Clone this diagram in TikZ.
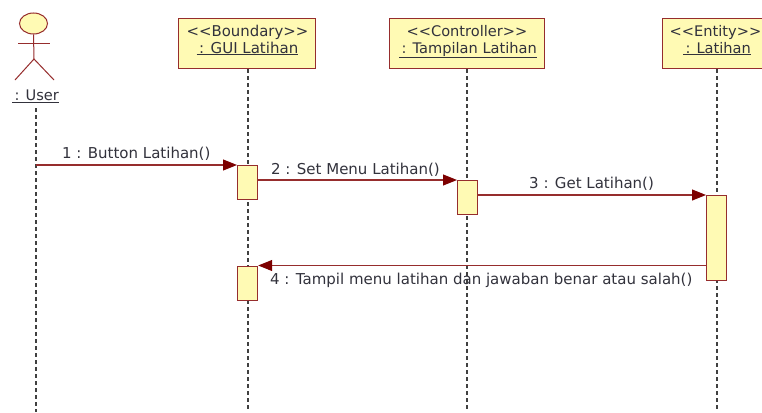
\documentclass[tikz,border=0pt]{standalone}
\usepackage{fontspec}
\setmainfont{DejaVu Sans}
\usetikzlibrary{arrows.meta,calc,shapes.geometric}
\definecolor{umlline}{RGB}{150,45,45}
\definecolor{umlfill}{RGB}{255,250,180}
\definecolor{umltip}{RGB}{125,0,0}
\definecolor{umltext}{RGB}{50,50,60}
\tikzset{
  x=1pt,y=-1pt,
  every node/.style={font=\fontsize{14.6}{17}\selectfont,text=umltext},
  objbox/.style={draw=umlline,line width=1.2pt,fill=umlfill,minimum height=50pt,inner sep=0pt,align=center,anchor=north west},
  actbox/.style={draw=umlline,line width=1.2pt,fill=umlfill,minimum width=20pt,inner sep=0pt,anchor=north west},
  lifeline/.style={draw=black!75,line width=1.2pt,dash pattern=on 3.5pt off 3.5pt},
  msg/.style={draw=umlline,line width=1.1pt,-{Triangle[length=14pt,width=11pt,color=umltip]}},
  msgline/.style={anchor=base west,inner sep=0pt,font=\fontsize{15}{17}\selectfont},
  stick/.style={draw=umlline,line width=1pt},
}
\begin{document}
\begin{tikzpicture}
\useasboundingbox (0,0) rectangle (762,412);
\clip (0,0) rectangle (762,412);
\fill[white] (0,0) rectangle (762,412);
% lifeline ends
\coordinate (endU) at (36,412);
\coordinate (endB) at (248,412);
\coordinate (endC) at (467,412);
\coordinate (endE) at (717,412);
% actor
\node[draw=umlline,line width=1pt,fill=umlfill,ellipse,inner sep=0pt,minimum width=28pt,minimum height=21pt] (head) at (33.5,23.5) {};
\coordinate (hip) at (34,59);
\coordinate (armL) at (18,44);
\coordinate (armR) at (50,44);
\coordinate (legL) at (15,80);
\coordinate (legR) at (54,80);
\draw[stick] (head.south) -- (hip);
\draw[stick] (armL) -- (armR);
\draw[stick] (legL) -- (hip) -- (legR);
\node[anchor=base,inner sep=0pt] (user) at (35.5,100.5) {\underline{\,: User}};
% heads
\node[objbox,minimum width=137pt] (gui) at (178,18) {};
\node[anchor=base,inner sep=0pt,font=\fontsize{14.9}{17}\selectfont] (guiA) at (247.5,36.5) {<{}<Boundary>{}>};
\node[anchor=base,inner sep=0pt,font=\fontsize{15}{17}\selectfont] (guiB) at (247.5,53) {\underline{\,: GUI Latihan}};
\node[objbox,minimum width=155pt] (tam) at (389,18) {};
\node[anchor=base,inner sep=0pt] (tamA) at (467,36.5) {<{}<Controller>{}>};
\node[anchor=base,inner sep=0pt] (tamB) at (468,53) {\underline{\,: Tampilan Latihan}};
\node[objbox,minimum width=120pt] (ent) at (662,18) {};
\node[anchor=base,inner sep=0pt] (entA) at (715.5,36.5) {<{}<Entity>{}>};
\node[anchor=base,inner sep=0pt] (entB) at (717,53) {\underline{\,: Latihan}};
% lifelines
\coordinate (userTop) at (36,108);
\coordinate (userLife) at (36,165);
\draw[lifeline] (userTop) -- (endU);
\draw[lifeline] (gui.south -| endB) -- (endB);
\draw[lifeline] (tam.south -| endC) -- (endC);
\draw[lifeline] (ent.south -| endE) -- (endE);
% activations
\node[actbox,minimum height=34pt] (a1) at (237,165) {};
\node[actbox,minimum height=34pt] (a2) at (457,180) {};
\node[actbox,minimum height=85pt] (a3) at (706,195) {};
\node[actbox,minimum height=34pt] (a4) at (237,265.5) {};
% messages
\draw[msg] (userLife) -- (a1.north west);
\draw[msg] (a1.east |- a2.north) -- (a2.north west);
\draw[msg] (a2.east |- a3.north) -- (a3.north west);
\draw[msg] (a3.west |- a4.north) -- (a4.north east);
% labels
\node[msgline] (m1) at (62,158) {1 : Button Latihan()};
\node[msgline] (m2) at (271,174) {2 : Set Menu Latihan()};
\node[msgline] (m3) at (529,188.5) {3 : Get Latihan()};
\node[msgline] (m4) at (270,284) {4 : Tampil menu latihan dan jawaban benar atau salah()};
\end{tikzpicture}
\end{document}
